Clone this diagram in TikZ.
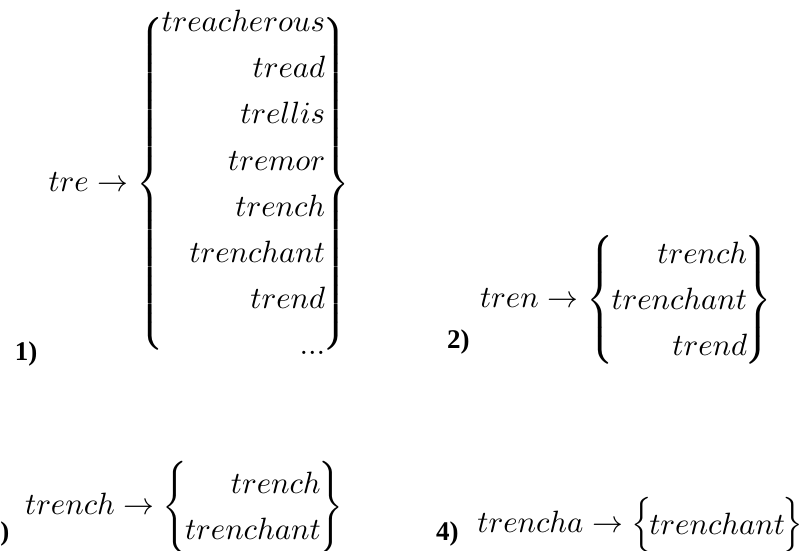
\documentclass[tikz,border=0pt]{standalone}
\usepackage{amsmath}
\usepackage{fontspec}
\newfontfamily\lblfont{Liberation Serif}
\tikzset{
  expr/.style={inner sep=0pt, outer sep=0pt},
  lbl/.style={inner sep=0pt, outer sep=0pt, anchor=base west, font=\fontsize{27}{30}\selectfont\lblfont\bfseries}
}
\newcommand{\setlist}[2][10pt]{\delimitershortfall=#1\relax\left\{\mspace{-1.5mu}\renewcommand{\arraystretch}{1.25}\begin{array}{@{}r@{}}#2\end{array}\mspace{-1.5mu}\right\}}
\newcommand{\mathbig}[1]{\scalebox{3.08}{$#1$}}
\begin{document}
\begin{tikzpicture}[x=1pt,y=1pt]
\useasboundingbox (0,0) rectangle (804,550);
\clip (0,0) rectangle (804,550);
% group 1
\node[expr, anchor=east] (g1) at (350,366) {\mathbig{\delimiterfactor=850\relax tre \to \setlist[12pt]{treacherous\\ tread\\ trellis\\ tremor\\ trench\\ trenchant\\ trend\\ ...}}};
\node[lbl] (l1) at (15,190) {1)};
% group 2
\node[expr, anchor=east] (g2) at (772,250) {\mathbig{tren \to \setlist{trench\\ trenchant\\ trend}}};
\node[lbl] (l2) at (447,202) {2)};
% group 3
\node[expr, anchor=east] (g3) at (343,43) {\mathbig{trench \to \setlist{trench\\ trenchant}}};
\node[lbl] (l3) at (-13,10) {3)};
% group 4
\node[expr, anchor=east] (g4) at (803,25) {\mathbig{trencha \to \setlist{trenchant}}};
\node[lbl] (l4) at (436,10) {4)};
\end{tikzpicture}
\end{document}
